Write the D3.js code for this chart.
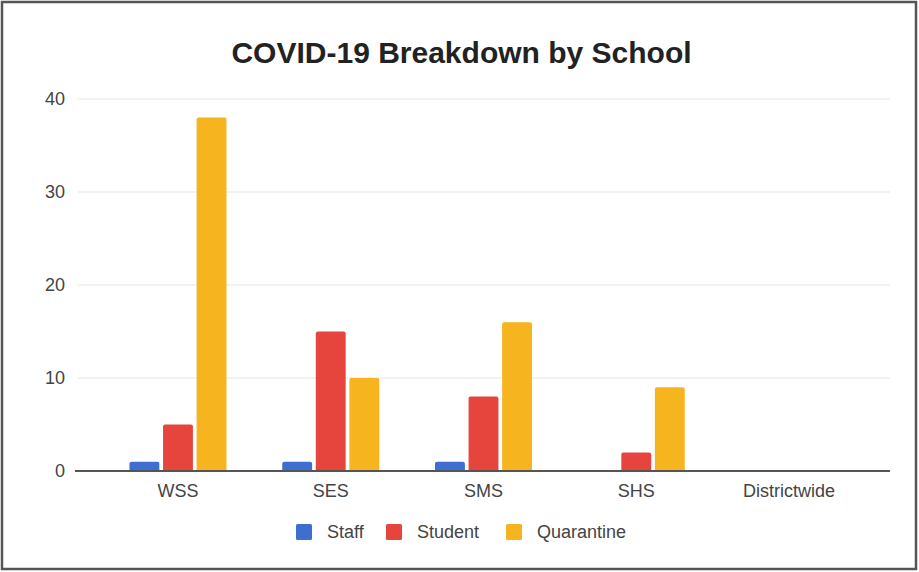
<!DOCTYPE html>
<html>
<head>
<meta charset="utf-8">
<script src="https://cdn.jsdelivr.net/npm/d3@7"></script>
<style>
  html, body { margin: 0; padding: 0; background: #fff; }
  svg { display: block; }
  text { font-family: "Liberation Sans", Arial, sans-serif; }
</style>
</head>
<body>
<svg id="chart" width="919" height="572"></svg>
<script>
const categories = ["WSS", "SES", "SMS", "SHS", "Districtwide"];
const seriesNames = ["Staff", "Student", "Quarantine"];
const staff = [1, 1, 1, 0, 0];
const student = [5, 15, 8, 2, 0];
const quarantine = [38, 10, 16, 9, 0];
const yTicks = [0, 10, 20, 30, 40];
const colors = ["#3e6ecf", "#e5453c", "#f6b41f"];
const title = "COVID-19 Breakdown by School";

const seriesValues = [staff, student, quarantine];

const svg = d3.select("#chart");
const W = 919, H = 572;

// frame
svg.append("rect").attr("x", 2).attr("y", 2).attr("width", W - 5).attr("height", H - 5)
  .attr("fill", "#fff").attr("stroke", "#555").attr("stroke-width", 2.5);

const plotLeft = 101.6, plotRight = 865.4;
const gridLeft = 78, gridRight = 890;
const y0 = 471, yTop = 99;

const x = d3.scaleBand().domain(categories).range([plotLeft, plotRight]).padding(0);
const groupW = 97;
const xSub = d3.scaleBand().domain(seriesNames).range([0, groupW]).paddingInner(0.11);
const y = d3.scaleLinear().domain([0, 40]).range([y0, yTop]);

// gridlines
svg.append("g").selectAll("line").data(yTicks.filter(d => d !== 0)).join("line")
  .attr("x1", gridLeft).attr("x2", gridRight)
  .attr("y1", d => y(d)).attr("y2", d => y(d))
  .attr("stroke", "#e6e6e6").attr("stroke-width", 1.2);

// y tick labels
svg.append("g").selectAll("text").data(yTicks).join("text")
  .attr("x", 65).attr("y", d => y(d)).attr("dy", "0.35em")
  .attr("text-anchor", "end").attr("font-size", 18).attr("fill", "#444")
  .text(d => d);

// bars
const data = [];
categories.forEach((c, i) => {
  seriesNames.forEach((s, j) => {
    data.push({ cat: c, series: s, value: seriesValues[j][i], color: colors[j] });
  });
});
svg.append("g").selectAll("path").data(data.filter(d => d.value > 0)).join("path")
  .attr("fill", d => d.color)
  .attr("d", d => {
    const bx = x(d.cat) + x.bandwidth() / 2 - groupW / 2 + xSub(d.series);
    const bw = xSub.bandwidth();
    const top = y(d.value), bot = y(0);
    const r = 2;
    return `M${bx},${bot}V${top + r}Q${bx},${top} ${bx + r},${top}H${bx + bw - r}Q${bx + bw},${top} ${bx + bw},${top + r}V${bot}Z`;
  });

// baseline
svg.append("line").attr("x1", 75).attr("x2", gridRight)
  .attr("y1", y(0)).attr("y2", y(0))
  .attr("stroke", "#555").attr("stroke-width", 2);

// x labels
svg.append("g").selectAll("text").data(categories).join("text")
  .attr("x", d => x(d) + x.bandwidth() / 2).attr("y", 497)
  .attr("text-anchor", "middle").attr("font-size", 18).attr("fill", "#444")
  .text(d => d);

// title
svg.append("text").attr("x", 461.5).attr("y", 63)
  .attr("text-anchor", "middle").attr("font-size", 30).attr("font-weight", "bold")
  .attr("fill", "#222").text(title);

// legend
const legendX = [296, 386, 506];
const lg = svg.append("g").selectAll("g").data(seriesNames).join("g")
  .attr("transform", (d, i) => `translate(${legendX[i]},524)`);
lg.append("rect").attr("width", 16).attr("height", 16).attr("rx", 1.5)
  .attr("fill", (d, i) => colors[i]);
lg.append("text").attr("x", 31).attr("y", 13.5).attr("font-size", 18).attr("fill", "#444")
  .text(d => d);
</script>
</body>
</html>
